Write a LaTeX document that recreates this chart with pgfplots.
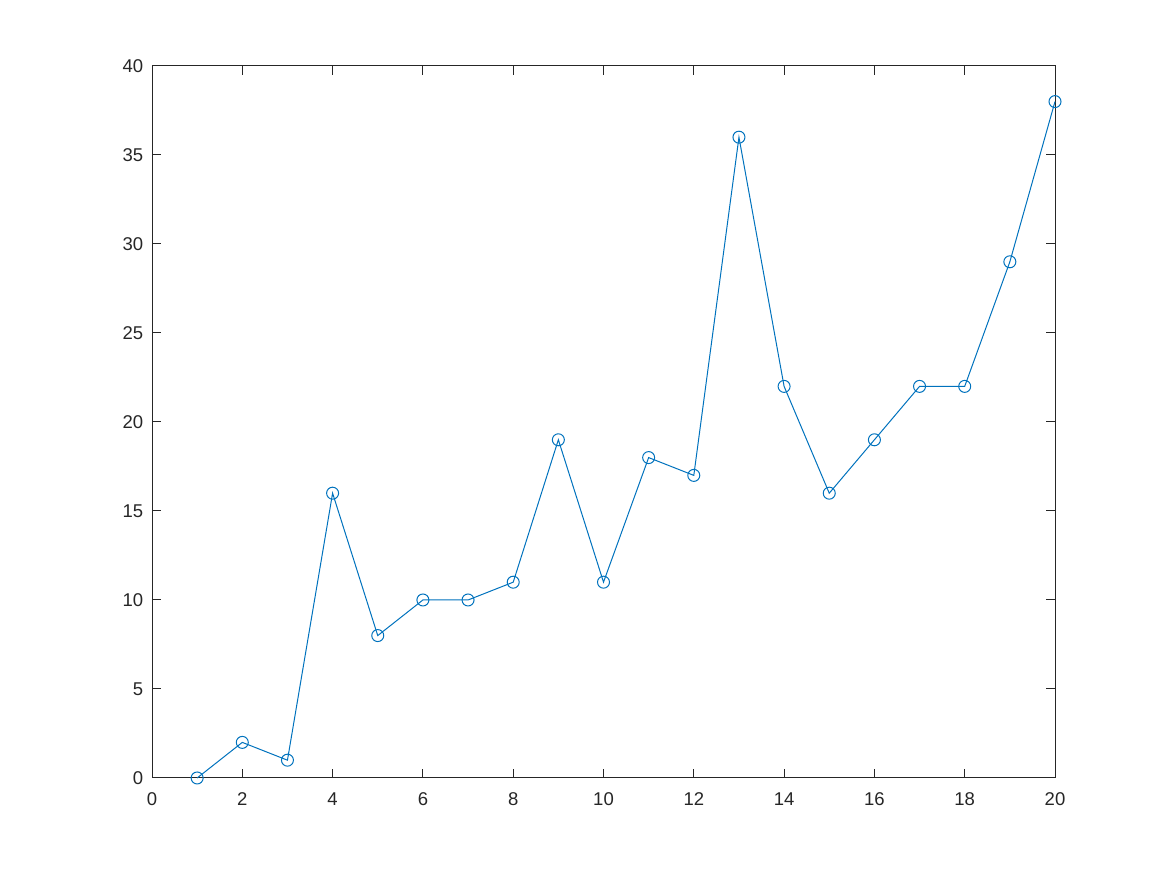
\documentclass[border=0pt]{standalone}
\usepackage{pgfplots}
\pgfplotsset{compat=1.18}
\usepackage{fontspec}
\setmainfont{Liberation Sans}
\definecolor{mblue}{rgb}{0,0.447,0.741}
\definecolor{axgray}{rgb}{0.15,0.15,0.15}
\begin{document}
\begin{tikzpicture}
\begin{axis}[
  scale only axis,
  width=361.2pt, height=284.8pt,
  xmin=0, xmax=20, ymin=0, ymax=40,
  xtick={0,2,...,20}, ytick={0,5,...,40},
  tick align=inside,
  major tick length=3.6pt,
  axis line style={axgray, line width=0.4pt},
  every tick/.style={axgray, line width=0.4pt},
  tick label style={font=\fontsize{7.4}{8.8}\selectfont, text=axgray},
  xticklabel style={yshift=-2.4pt},
  /pgf/number format/assume math mode=true,
  xtick pos=both, ytick pos=both,
  clip=false,
]
\addplot[mblue, line width=0.4pt, mark=o, mark size=2.4pt, mark options={line width=0.4pt}] coordinates {
(1,0)(2,2)(3,1)(4,16)(5,8)(6,10)(7,10)(8,11)(9,19)(10,11)
(11,18)(12,17)(13,36)(14,22)(15,16)(16,19)(17,22)(18,22)(19,29)(20,38)
};
\path (rel axis cs:-0.16833,-0.13624) rectangle (rel axis cs:1.12403,1.09270);
\end{axis}
\end{tikzpicture}
\end{document}
